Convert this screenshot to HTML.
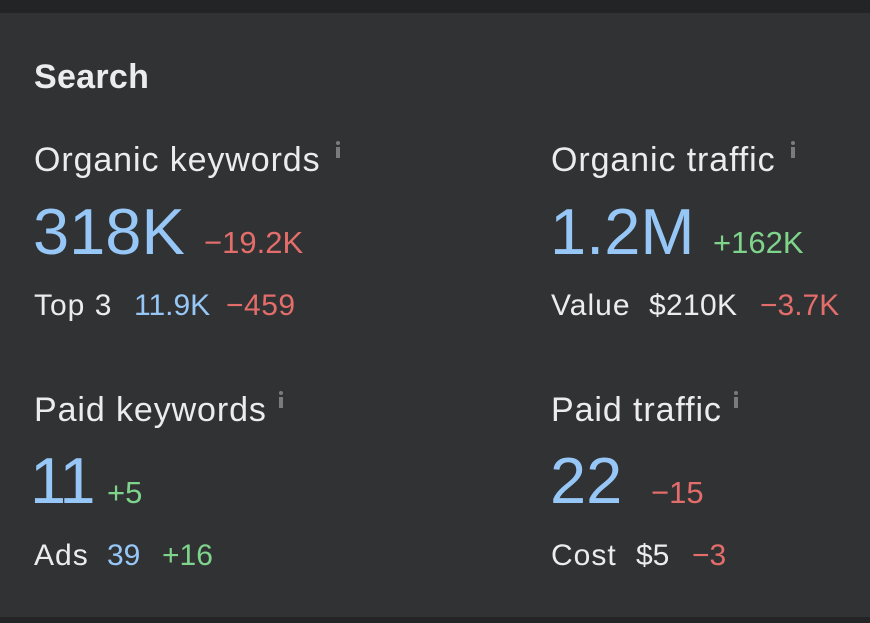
<!DOCTYPE html>
<html><head><style>
html,body{margin:0;padding:0;background:#232425;width:870px;height:623px;overflow:hidden;font-family:"Liberation Sans",sans-serif;}
#p{position:absolute;left:0;top:13px;width:870px;height:604px;background:#313234;}
.t{position:absolute;line-height:1;white-space:nowrap;}
.w{color:#ececec}.b{color:#96c7f7}.r{color:#e36d6a}.g{color:#7fd48c}
.l{font-size:34px;letter-spacing:0.9px}
.s{font-size:30px}
.sw{letter-spacing:1px}
.i{position:absolute;width:4px;height:11px;background:#7a7b7d;}
.i:before{content:"";position:absolute;left:0;top:-6px;width:4px;height:4px;background:#7a7b7d;border-radius:2px}
</style></head><body>
<div id="p"></div>
<div class="t w" style="left:34px;top:60px;font-size:34px;font-weight:bold;letter-spacing:0.3px">Search</div>

<div class="t w l" style="left:34px;top:143px">Organic keywords</div>
<div class="i" style="left:336px;top:147px"></div>
<div class="t b" style="left:33px;top:199px;font-size:65px">318K</div>
<div class="t r" style="left:204px;top:227px;font-size:31px">−19.2K</div>
<div class="t w s sw" style="left:34px;top:291px">Top 3</div>
<div class="t b s" style="left:134px;top:291px">11.9K</div>
<div class="t r s" style="left:226px;top:291px;letter-spacing:0.5px">−459</div>

<div class="t w l" style="left:551px;top:143px">Organic traffic</div>
<div class="i" style="left:791px;top:147px"></div>
<div class="t b" style="left:550px;top:199px;font-size:65px">1.2M</div>
<div class="t g" style="left:713px;top:227px;font-size:31px">+162K</div>
<div class="t w s sw" style="left:551px;top:291px">Value</div>
<div class="t w s" style="left:649px;top:291px;letter-spacing:0.3px">$210K</div>
<div class="t r s" style="left:760px;top:291px">−3.7K</div>

<div class="t w l" style="left:34px;top:393px">Paid keywords</div>
<div class="i" style="left:279px;top:397px"></div>
<div class="t b" style="left:30px;top:448px;font-size:65px;letter-spacing:-2px">11</div>
<div class="t g" style="left:107px;top:477px;font-size:31px">+5</div>
<div class="t w s sw" style="left:34px;top:541px">Ads</div>
<div class="t b s" style="left:107px;top:541px">39</div>
<div class="t g s" style="left:162px;top:541px">+16</div>

<div class="t w l" style="left:551px;top:393px">Paid traffic</div>
<div class="i" style="left:734px;top:397px"></div>
<div class="t b" style="left:550px;top:448px;font-size:65px">22</div>
<div class="t r" style="left:651px;top:477px;font-size:31px">−15</div>
<div class="t w s sw" style="left:551px;top:541px">Cost</div>
<div class="t w s" style="left:636px;top:541px">$5</div>
<div class="t r s" style="left:692px;top:541px">−3</div>
</body></html>
